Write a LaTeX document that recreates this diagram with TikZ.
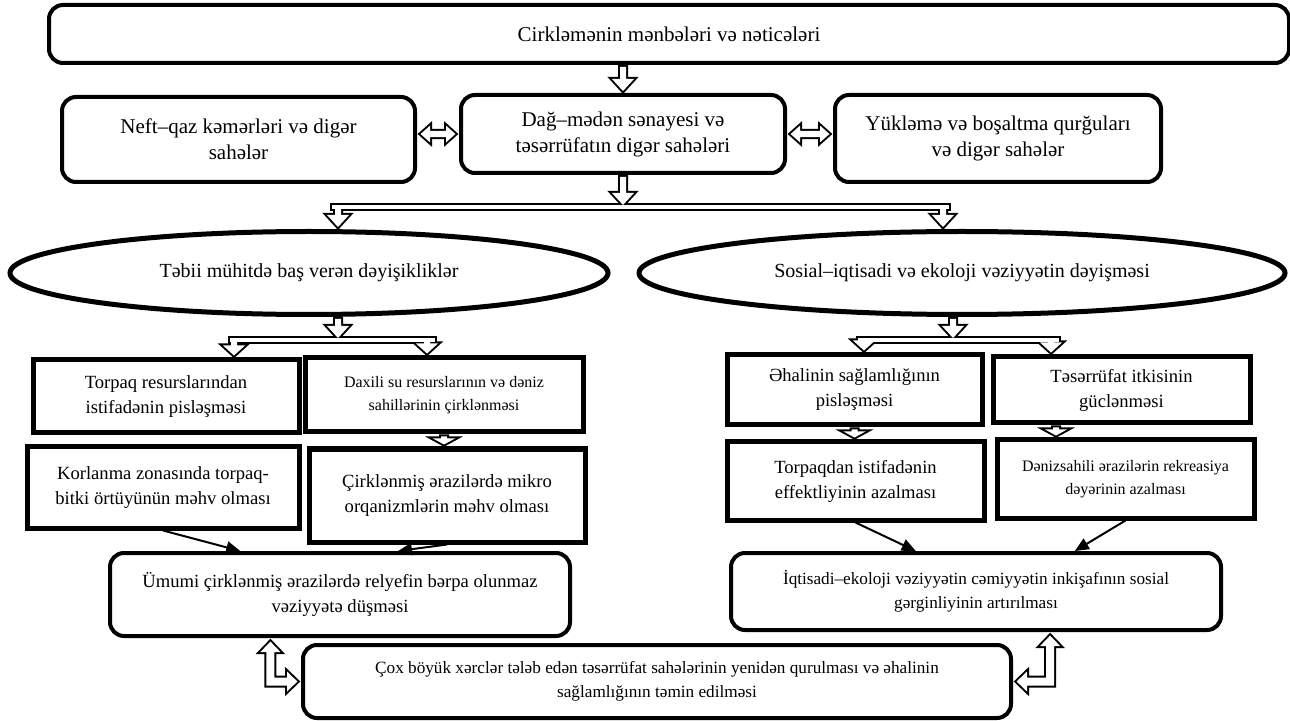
\documentclass[tikz,border=0pt]{standalone}
\usepackage{fontspec}
\setmainfont{Liberation Serif}
\usetikzlibrary{shapes.geometric,calc,arrows.meta}

% hollow block arrows (drawn twice: outline pass, then white pass)
\newcommand{\darrow}[4]{%
  \edef\arrstyle{#1}%
  \expandafter\path\expandafter[\arrstyle] let \p1=(#2), \p2=(#3) in
    (\x1-1.5pt,\y1-1pt) -- (\x1-1.5pt,\y2+1pt+#4) -- (\x1-5.5pt,\y2+1pt+#4) -- (\x1,\y2+1pt)
    -- (\x1+5.5pt,\y2+1pt+#4) -- (\x1+1.5pt,\y2+1pt+#4) -- (\x1+1.5pt,\y1-1pt) -- cycle;}
\newcommand{\harrow}[3]{%
  \edef\arrstyle{#1}%
  \expandafter\path\expandafter[\arrstyle] let \p1=(#2), \p2=(#3) in
    (\x1+1.8pt,\y2) -- (\x1+6.5pt,\y2+4.2pt) -- (\x1+6.5pt,\y2+1.6pt) -- (\x2-6.5pt,\y2+1.6pt)
    -- (\x2-6.5pt,\y2+4.2pt) -- (\x2-1.8pt,\y2) -- (\x2-6.5pt,\y2-4.2pt) -- (\x2-6.5pt,\y2-1.6pt)
    -- (\x1+6.5pt,\y2-1.6pt) -- (\x1+6.5pt,\y2-4.2pt) -- cycle;}
\newcommand{\elbow}[4]{%
  \edef\arrstyle{#1}%
  \expandafter\path\expandafter[\arrstyle] let \p1=(#2), \p2=(#3) in
    (\x1,\y1-1.8pt) -- ({\x1+(#4)*5pt},\y1-7pt) -- ({\x1+(#4)*2pt},\y1-7pt)
    -- ({\x1+(#4)*2pt},\y2+2pt) -- ({\x2-(#4)*7pt},\y2+2pt) -- ({\x2-(#4)*7pt},\y2+5pt)
    -- ({\x2-(#4)*1.8pt},\y2) -- ({\x2-(#4)*7pt},\y2-5pt) -- ({\x2-(#4)*7pt},\y2-2pt)
    -- ({\x1-(#4)*2pt},\y2-2pt) -- ({\x1-(#4)*2pt},\y1-7pt) -- ({\x1-(#4)*5pt},\y1-7pt) -- cycle;}
\newcommand{\splitbar}[3]{%
  \edef\arrstyle{#1}%
  \expandafter\path\expandafter[\arrstyle] ($(#2)+(0,-2)$) rectangle ($(#3)+(0,2)$);}

\tikzset{
  rbox/.style={draw, line width=2pt, rounded corners=7pt, inner sep=0pt, align=center},
  sbox/.style={draw, line width=2.5pt, inner sep=0pt, align=center},
  oval/.style={ellipse, draw, line width=2.5pt, inner sep=0pt},
  outline/.style={draw, line width=2pt},
  inside/.style={fill=white},
  link/.style={line width=1pt, -{Triangle[length=7pt,width=6pt]}},
  fbig/.style={font=\fontsize{10.5}{13}\selectfont},
  fell/.style={font=\fontsize{10}{12}\selectfont},
  fmid/.style={font=\fontsize{9.3}{12.5}\selectfont},
  fsm/.style={font=\fontsize{8.6}{12}\selectfont},
  fxs/.style={font=\fontsize{8}{11.5}\selectfont},
}

\begin{document}
\begin{tikzpicture}[x=0.5pt,y=-0.5pt]
	\useasboundingbox (0,0) rectangle (1290,721);

	% sources
	\node[rbox, fbig, minimum width=620pt, minimum height=29pt] (top) at (669,34) {Cirkləmənin mənbələri və nəticələri};
	\node[rbox, fbig, minimum width=176.5pt, minimum height=42.5pt] (neft) at (238.5,139.5) {Neft–qaz kəmərləri və digər\\sahələr};
	\node[rbox, fbig, minimum width=162pt, minimum height=39pt] (dag) at (623,134) {Dağ–mədən sənayesi və\\təsərrüfatın digər sahələri};
	\node[rbox, fbig, minimum width=163pt, minimum height=43.5pt] (yuk) at (998,138.5) {Yükləmə və boşaltma qurğuları\\və digər sahələr};

	% two kinds of change
	\node[oval, fell, minimum width=299pt, minimum height=41.5pt] (ellL) at (309,273) {Təbii mühitdə baş verən dəyişikliklər};
	\node[oval, fell, minimum width=323pt, minimum height=41.5pt] (ellR) at (962,273) {Sosial–iqtisadi və ekoloji vəziyyətin dəyişməsi};

	% natural side
	\node[sbox, fmid, minimum width=133pt, minimum height=36.5pt] (tr) at (166,396.5) {Torpaq resurslarından\\istifadənin pisləşməsi};
	\node[sbox, fxs, minimum width=139pt, minimum height=37pt] (ds) at (444,395) {Daxili su resurslarının və dəniz\\sahillərinin çirklənməsi};
	\node[sbox, fmid, minimum width=136pt, minimum height=40.5pt] (kz) at (163,487.5) {Korlanma zonasında torpaq-\\bitki örtüyünün məhv olması};
	\node[sbox, fmid, minimum width=138pt, minimum height=46.5pt] (ce) at (447,495.5) {Çirklənmiş ərazilərdə mikro\\orqanizmlərin məhv olması};
	\node[rbox, fmid, minimum width=230pt, minimum height=41.5pt] (um) at (340,594.5) {Ümumi çirklənmiş ərazilərdə relyefin bərpa olunmaz\\vəziyyətə düşməsi};

	% social side
	\node[sbox, fmid, minimum width=127.5pt, minimum height=35pt] (eh) at (854.5,390) {Əhalinin sağlamlığının\\pisləşməsi};
	\node[sbox, fmid, minimum width=128.5pt, minimum height=33pt] (ti) at (1121.5,390) {Təsərrüfat itkisinin\\güclənməsi};
	\node[sbox, fmid, minimum width=128.5pt, minimum height=39pt] (te) at (855.5,481) {Torpaqdan istifadənin\\effektliyinin azalması};
	\node[sbox, fxs, minimum width=128.5pt, minimum height=39pt] (dz) at (1125.5,479) {Dənizsahili ərazilərin rekreasiya\\dəyərinin azalması};
	\node[rbox, fsm, minimum width=245pt, minimum height=38.5pt] (iq) at (976,591.5) {İqtisadi–ekoloji vəziyyətin cəmiyyətin inkişafının sosial\\gərginliyinin artırılması};

	% outcome
	\node[rbox, fsm, minimum width=354pt, minimum height=36.5pt] (cx) at (657,681.5) {Çox böyük xərclər tələb edən təsərrüfat sahələrinin yenidən qurulması və əhalinin\\sağlamlığının təmin edilməsi};

	% split points
	\coordinate (spA1) at (338,207);
	\coordinate (spA2) at (943,207);
	\coordinate (spB1) at (234,340);
	\coordinate (spB2) at (427,340);
	\coordinate (spC1) at (864,340);
	\coordinate (spC2) at (1051,340);
	\coordinate (inB) at (338,340);
	\coordinate (inC) at (953,340);
	\coordinate (tiout) at ($(ti.south)!0.5!(ti.south west)$);
	\coordinate (umin) at ($(um.south west)!0.35!(um.south east)$);
	\coordinate (iqin) at ($(iq.south west)!0.65!(iq.south east)$);

	\foreach \st in {outline,inside}{
		\darrow{\st}{dag.north |- top.south}{dag.north}{6pt}
		\harrow{\st}{neft.east |- dag.west}{dag.west}
		\harrow{\st}{dag.east}{yuk.west |- dag.east}
		% first split
		\darrow{\st}{dag.south}{dag.south |- spA1}{6pt}
		\splitbar{\st}{$(spA1)+(-6,0)$}{$(spA2)+(6,0)$}
		\darrow{\st}{spA1}{spA1 |- ellL.north}{6pt}
		\darrow{\st}{spA2}{spA2 |- ellR.north}{6pt}
		% left split
		\darrow{\st}{inB |- ellL.south}{inB}{6pt}
		\splitbar{\st}{$(spB1)+(-4,0)$}{$(spB2)+(8,0)$}
		\darrow{\st}{spB1}{spB1 |- tr.north}{5pt}
		\darrow{\st}{spB2}{spB2 |- ds.north}{5pt}
		% right split
		\darrow{\st}{inC |- ellR.south}{inC}{6pt}
		\splitbar{\st}{$(spC1)+(-6,0)$}{$(spC2)+(8,0)$}
		\darrow{\st}{spC1}{spC1 |- eh.north}{5pt}
		\darrow{\st}{spC2}{spC2 |- ti.north}{5pt}
		% single steps
		\darrow{\st}{ds.south}{ds.south |- ce.north}{3pt}
		\darrow{\st}{eh.south}{eh.south |- te.north}{3pt}
		\darrow{\st}{tiout}{tiout |- dz.north}{3pt}
		% feedback
		\elbow{\st}{umin}{cx.west}{1}
		\elbow{\st}{iqin}{cx.east}{-1}
	}

	\draw[link] (kz.south) -- ($(um.north west)!0.285!(um.north east)$);
	\draw[link] (ce.south) -- ($(um.north west)!0.625!(um.north east)$);
	\draw[link] (te.south) -- ($(iq.north west)!0.378!(iq.north east)$);
	\draw[link] (dz.south) -- ($(iq.north west)!0.7!(iq.north east)$);
\end{tikzpicture}
\end{document}
